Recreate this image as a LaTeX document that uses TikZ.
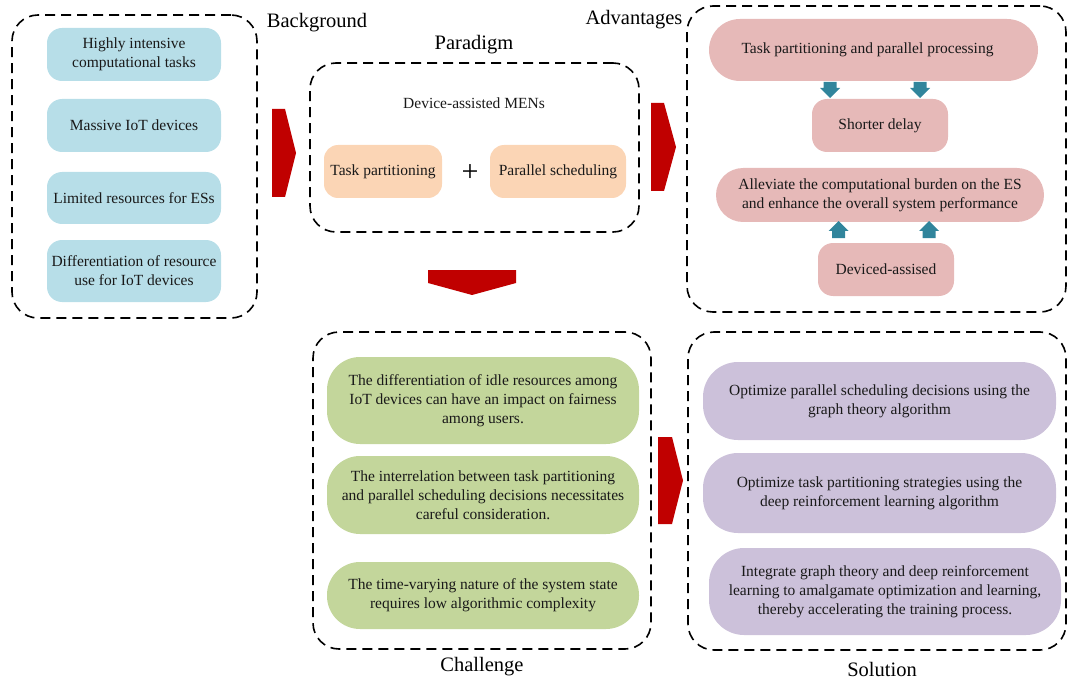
\documentclass[tikz,border=0pt]{standalone}
\usepackage{fontspec}
\setmainfont{Liberation Serif}
\definecolor{bgblue}{HTML}{B7DEE8}
\definecolor{peach}{HTML}{FBD5B5}
\definecolor{pinkc}{HTML}{E6B9B8}
\definecolor{greenc}{HTML}{C3D69B}
\definecolor{purplec}{HTML}{CCC1DA}
\definecolor{tealc}{HTML}{31859C}
\definecolor{arrred}{HTML}{C00000}
\tikzset{
  frame/.style={draw=black, line width=1.6pt, dash pattern=on 10pt off 6pt, rounded corners=26pt, inner sep=0pt},
  box/.style={align=center, font=\fontsize{15.5}{19}\selectfont, inner sep=0pt, text=black!90},
  bluebox/.style={box, fill=bgblue, rounded corners=15pt, minimum width=174pt},
  peachbox/.style={box, fill=peach, rounded corners=14pt, minimum height=53pt},
  pinkbox/.style={box, fill=pinkc},
  greenbox/.style={box, fill=greenc, rounded corners=33pt, minimum width=312pt},
  purplebox/.style={box, fill=purplec, rounded corners=35pt},
  title/.style={font=\fontsize{20.5}{24}\selectfont, inner sep=0pt},
  bigarrow/.style={fill=arrred},
  downarr/.pic={\fill[tealc] (-6.5,0) -- (6.5,0) -- (6.5,6) -- (10,6) -- (0,16) -- (-10,6) -- (-6.5,6) -- cycle;},
  uparr/.pic={\fill[tealc] (0,0) -- (10,10) -- (6.5,10) -- (6.5,17) -- (-6.5,17) -- (-6.5,10) -- (-10,10) -- cycle;}
}
\begin{document}
\begin{tikzpicture}[x=1pt,y=-1pt]
\useasboundingbox (0,0) rectangle (1068,679);

% ---------- Background ----------
\node[frame, minimum width=245pt, minimum height=303pt] (bgf) at (134.5,166.5) {};
\node[title] (bgt) at (317,23) {Background};
\node[bluebox, minimum height=53pt] (b1) at (134,54.5) {Highly intensive\\computational tasks};
\node[bluebox, minimum height=53pt] (b2) at (134,125.5) {Massive IoT devices};
\node[bluebox, minimum height=52pt] (b3) at (134,198) {Limited resources for ESs};
\node[bluebox, minimum height=62pt] (b4) at (134,271) {Differentiation of resource\\use for IoT devices};

% ---------- Paradigm ----------
\node[frame, minimum width=329pt, minimum height=169pt] (pf) at (474.5,147.5) {};
\node[title] (pt) at (474,45) {Paradigm};
\node[box] (dm) at (474,103) {Device-assisted MENs};
\node[peachbox, minimum width=118pt] (tp) at (383,171.5) {Task partitioning};
\node[peachbox, minimum width=136pt] (ps) at (558,171.5) {Parallel scheduling};
\node[inner sep=0pt, font=\fontsize{30}{32}\selectfont] (plus) at (470,173) {+};

% ---------- Advantages ----------
\node[frame, minimum width=379pt, minimum height=306pt] (af) at (876.5,159) {};
\node[title] (at) at (634,20) {Advantages};
\node[pinkbox, rounded corners=31pt, minimum width=329pt, minimum height=62pt] (a1) at (873.5,50) {\hspace*{-12pt}Task partitioning and parallel processing};
\node[pinkbox, rounded corners=15pt, minimum width=136pt, minimum height=53pt] (a2) at (880,125.5) {Shorter delay};
\node[pinkbox, rounded corners=27pt, minimum width=328pt, minimum height=54pt] (a3) at (880,195) {Alleviate the computational burden on the ES\\and enhance the overall system performance};
\node[pinkbox, rounded corners=15pt, minimum width=136pt, minimum height=53pt] (a4) at (886,269.5) {Deviced-assised};
\pic at (830,82) {downarr};
\pic at (920,82) {downarr};
\pic at (838.5,221) {uparr};
\pic at (929,221) {uparr};

% ---------- Challenge ----------
\node[frame, minimum width=338pt, minimum height=317pt] (cf) at (482,490.5) {};
\node[title] (ct) at (482,667) {Challenge};
\node[greenbox, minimum height=87pt] (c1) at (483,400.5) {The differentiation of idle resources among\\IoT devices can have an impact on fairness\\among users.};
\node[greenbox, minimum height=78pt] (c2) at (483,495) {The interrelation between task partitioning\\and parallel scheduling decisions necessitates\\careful consideration.};
\node[greenbox, minimum height=67pt] (c3) at (483,595.5) {The time-varying nature of the system state\\requires low algorithmic complexity};

% ---------- Solution ----------
\node[frame, minimum width=378pt, minimum height=318pt] (sf) at (877,491) {};
\node[title] (st) at (882,669) {Solution};
\node[purplebox, minimum width=353pt, minimum height=78pt] (s1) at (879.5,401) {Optimize parallel scheduling decisions using the\\graph theory algorithm};
\node[purplebox, minimum width=353pt, minimum height=80pt] (s2) at (879.5,493) {Optimize task partitioning strategies using the\\deep reinforcement learning algorithm};
\node[purplebox, minimum width=352pt, minimum height=87pt] (s3) at (885,591.5) {Integrate graph theory and deep reinforcement\\learning to amalgamate optimization and learning,\\thereby accelerating the training process.};

% ---------- Block arrows ----------
\fill[bigarrow] (272,109) -- (285,109) -- (296,153) -- (285,197) -- (272,197) -- cycle;
\fill[bigarrow] (651,103) -- (664,103) -- (676,147) -- (664,191) -- (651,191) -- cycle;
\fill[bigarrow] (658,437) -- (672,437) -- (683,480.5) -- (672,524) -- (658,524) -- cycle;
\fill[bigarrow] (428,270) -- (516,270) -- (516,283) -- (472,295) -- (428,283) -- cycle;
\end{tikzpicture}
\end{document}
